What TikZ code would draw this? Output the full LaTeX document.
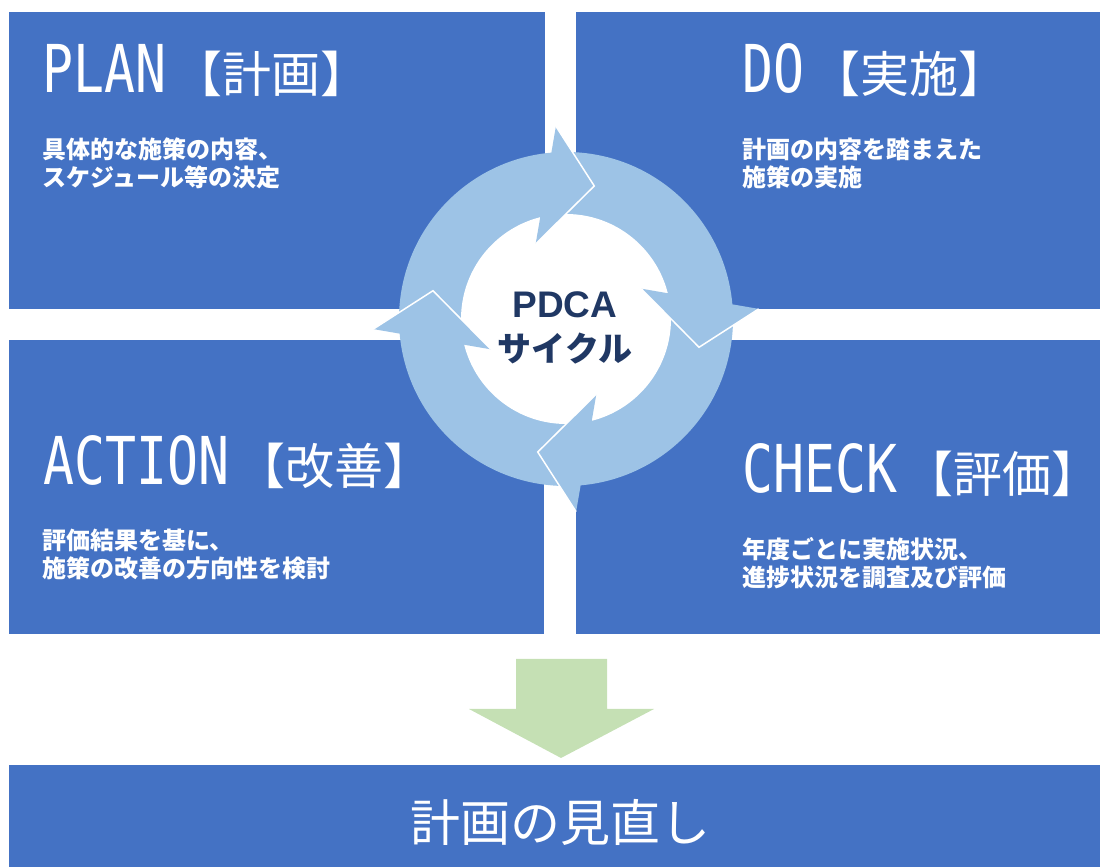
\documentclass[tikz,border=0pt]{standalone}
\usepackage{fontspec}
\usetikzlibrary{positioning}
\newfontfamily\cjkfont{Noto Sans CJK JP}
\newfontfamily\latfont[FakeStretch=0.78]{DejaVu Sans Mono}
\newfontfamily\pdcafont{Liberation Sans}
\definecolor{boxblue}{HTML}{4472C4}
\definecolor{ringblue}{HTML}{9DC3E6}
\definecolor{arrowgreen}{HTML}{C5E0B4}
\definecolor{navy}{HTML}{203864}
\newcommand\boxtitle[2]{{\latfont\fontsize{66}{66}\selectfont #1}\hspace{7pt}{\cjkfont\fontsize{49}{49}\selectfont 【#2】}}
\tikzset{
  box/.style={rectangle,fill=boxblue,anchor=north west,inner sep=0pt},
  title/.style={anchor=base west,inner sep=0pt,text=white},
  body/.style={anchor=base west,inner sep=0pt,text=white,align=left,font=\cjkfont\bfseries\fontsize{24}{28}\selectfont}
}
\begin{document}
\begin{tikzpicture}[x=1pt,y=1pt]
        \useasboundingbox (0,0) rectangle (1100,867);
        \node[box,minimum width=536pt,minimum height=297pt] (plan) at (9,855) {};
        \node[box,minimum width=524pt,minimum height=297pt] (do) at (576,855) {};
        \node[box,minimum width=535pt,minimum height=294pt] (action) at (9,527) {};
        \node[box,minimum width=524pt,minimum height=294pt] (check) at (576,527) {};
        \node[box,minimum width=1091pt,minimum height=102pt] (review) at (9,102) {};
        \node[title] (plantitle) at (42,774) {\boxtitle{PLAN}{計画}};
        \node[title] (dotitle) at (742,774) {\boxtitle{DO}{実施}};
        \node[title] (actiontitle) at (43,382) {\boxtitle{ACTION}{改善}};
        \node[title] (checktitle) at (742,374) {\boxtitle{CHECK}{評価}};
        \node[body] (plantext) at (42,680) {具体的な施策の内容、\\スケジュール等の決定};
        \node[body] (dotext) at (742,680) {計画の内容を踏まえた\\施策の実施};
        \node[body] (actiontext) at (42,289) {評価結果を基に、\\施策の改善の方向性を検討};
        \node[body] (checktext) at (742,280) {年度ごとに実施状況、\\進捗状況を調査及び評価};
        \coordinate (c) at (566,548);
        \fill[ringblue] (c) circle[radius=167pt];
        \fill[white] (c) circle[radius=105pt];
        \begin{scope}[shift={(c)}]
            \foreach \a in {90,0,-90,180} {
                \fill[ringblue] (\a+3:193) -- (\a-12:136) -- (\a+22:81) -- cycle;
                \draw[white,line width=1.5pt,line join=miter] (\a+3:193) -- (\a-12:136) -- (\a+22:81);
            }
        \end{scope}
        \node[anchor=base,inner sep=0pt,text=navy,font=\pdcafont\bfseries\fontsize{37}{37}\selectfont] (pdca) at (565,549) {PDCA};
        \node[anchor=base,inner sep=0pt,text=navy,font=\cjkfont\bfseries\fontsize{34}{34}\selectfont] (cycle) at (565,505) {サイクル};
        \fill[arrowgreen] (516,208) -- (607,208) -- (607,158) -- (654,158) -- (561,109) -- (469,158) -- (516,158) -- cycle;
        \node[anchor=base,inner sep=0pt,text=white,font=\cjkfont\fontsize{50}{50}\selectfont] (reviewtext) at (560,25) {計画の見直し};
    \end{tikzpicture}
\end{document}
